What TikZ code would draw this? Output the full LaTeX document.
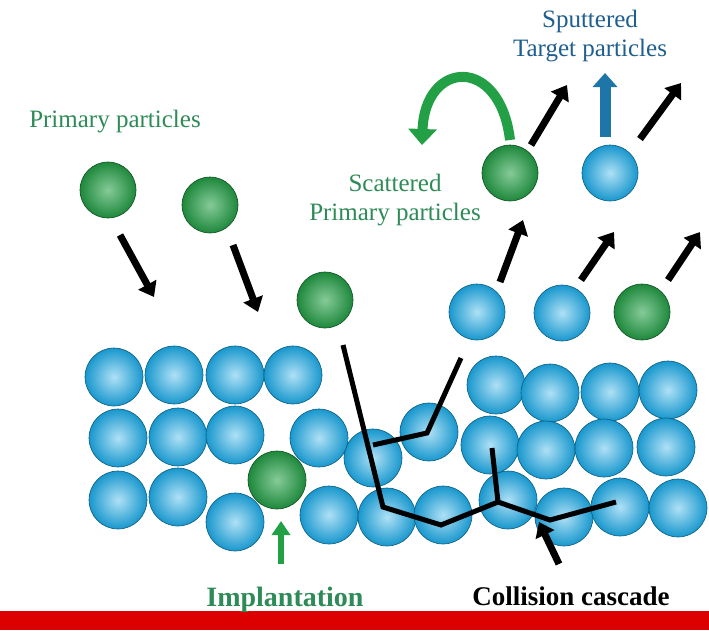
\documentclass[tikz,border=0pt]{standalone}
\usepackage{fontspec}
\setmainfont{Liberation Serif}
\usetikzlibrary{arrows.meta}
\definecolor{blu}{HTML}{1BA8E4}
\definecolor{grn}{HTML}{23A046}
\definecolor{txg}{HTML}{2E8B57}
\definecolor{txb}{HTML}{1F5F8F}
\definecolor{bar}{HTML}{DD0000}
\begin{document}
\begin{tikzpicture}[x=1pt,y=-1pt,
  b/.style={circle,minimum size=56pt,inner sep=0,inner color=blu!35!white,outer color=blu!90!black,draw=blu!55!black,line width=0.6pt},
  g/.style={circle,minimum size=56pt,inner sep=0,inner color=grn!55!white,outer color=grn!85!black,draw=grn!50!black,line width=0.6pt},
  ar/.style={line width=7pt,-{Triangle[length=14pt,width=20pt]}},
  casc/.style={line width=5pt,line join=miter}]
\useasboundingbox (0,0) rectangle (709,630);
\fill[white] (0,0) rectangle (709,630);
% lattice
\foreach \x/\y [count=\i] in {114/377,174/375,235/375,293/375,118/438,178/437,235/435,373/458,319/438,429/432,118/500,178/497,235/522,329/515,387/517,443/515,508/500,564/517,620/507,678/508,496/385,550/393,610/392,668/390,490/445,546/450,604/448,666/447}
  \node[b,minimum size=58pt] (L\i) at (\x,\y) {};
\node[g,minimum size=58pt] (imp) at (277,480) {};
% free particles
\node[g] (p1) at (108,190) {};
\node[g] (p2) at (210,205) {};
\node[g] (p3) at (325,300) {};
\node[b] (s1) at (477,312) {};
\node[b] (s2) at (562,313) {};
\node[g] (s3) at (642,312) {};
\node[g] (sc) at (510,173) {};
\node[b] (st) at (610,173) {};
% cascade
\coordinate (c0) at (343,345); \coordinate (c1) at (383,507); \coordinate (c2) at (441,525);
\coordinate (c3) at (498,502); \coordinate (c4) at (550,520); \coordinate (c5) at (616,502);
\coordinate (d0) at (373,445); \coordinate (d1) at (427,433); \coordinate (d2) at (461,358);
\coordinate (e0) at (492,448);
\draw[casc] (c0) -- (c1) -- (c2) -- (c3) -- (c4) -- (c5);
\draw[casc] (d0) -- (d1) -- (d2);
\draw[casc] (e0) -- (c3);
% arrows
\coordinate (a1s) at (120,235); \coordinate (a1e) at (154,297);
\coordinate (a2s) at (233,245); \coordinate (a2e) at (258,312);
\draw[ar] (a1s) -- (a1e);
\draw[ar] (a2s) -- (a2e);
\coordinate (b1s) at (500,282); \coordinate (b1e) at (523,220);
\coordinate (b2s) at (581,280); \coordinate (b2e) at (614,232);
\coordinate (b3s) at (668,280); \coordinate (b3e) at (700,232);
\coordinate (t1s) at (531,145); \coordinate (t1e) at (567,85);
\coordinate (t2s) at (640,139); \coordinate (t2e) at (681,83);
\draw[ar] (b1s) -- (b1e);
\draw[ar] (b2s) -- (b2e);
\draw[ar] (b3s) -- (b3e);
\draw[ar] (t1s) -- (t1e);
\draw[ar] (t2s) -- (t2e);
\coordinate (u1) at (605,137); \coordinate (u2) at (605,73);
\draw[line width=11pt,color=txb!70!blu,-{Triangle[length=14pt,width=24pt]}] (u1) -- (u2);
\coordinate (gc1) at (510,140); \coordinate (gc2) at (422,145);
\draw[line width=10pt,color=grn,-{Triangle[length=16pt,width=28pt]}] (gc1) .. controls (500,55) and (425,60) .. (gc2);
\coordinate (im1) at (281,564); \coordinate (im2) at (281,521);
\draw[line width=6pt,color=grn,-{Triangle[length=14pt,width=18pt]}] (im1) -- (im2);
\coordinate (co1) at (559,564); \coordinate (co2) at (539,522);
\draw[ar] (co1) -- (co2);
% texts
\node[txb,font=\fontsize{25}{29}\selectfont,align=center] (tsp) at (590,36) {Sputtered\\Target particles};
\node[txg,font=\fontsize{25}{29}\selectfont] (tpp) at (115,122) {Primary particles};
\node[txg,font=\fontsize{25}{29}\selectfont,align=center] (tsc) at (395,200) {Scattered\\Primary particles};
\fill[bar] (0,611) rectangle (709,630);
\node[txg,font=\bfseries\fontsize{28}{30}\selectfont,anchor=base] (timp) at (285,606) {Implantation};
\node[black,font=\bfseries\fontsize{27}{30}\selectfont,anchor=base] (tcol) at (571,605) {Collision cascade};
\end{tikzpicture}
\end{document}
